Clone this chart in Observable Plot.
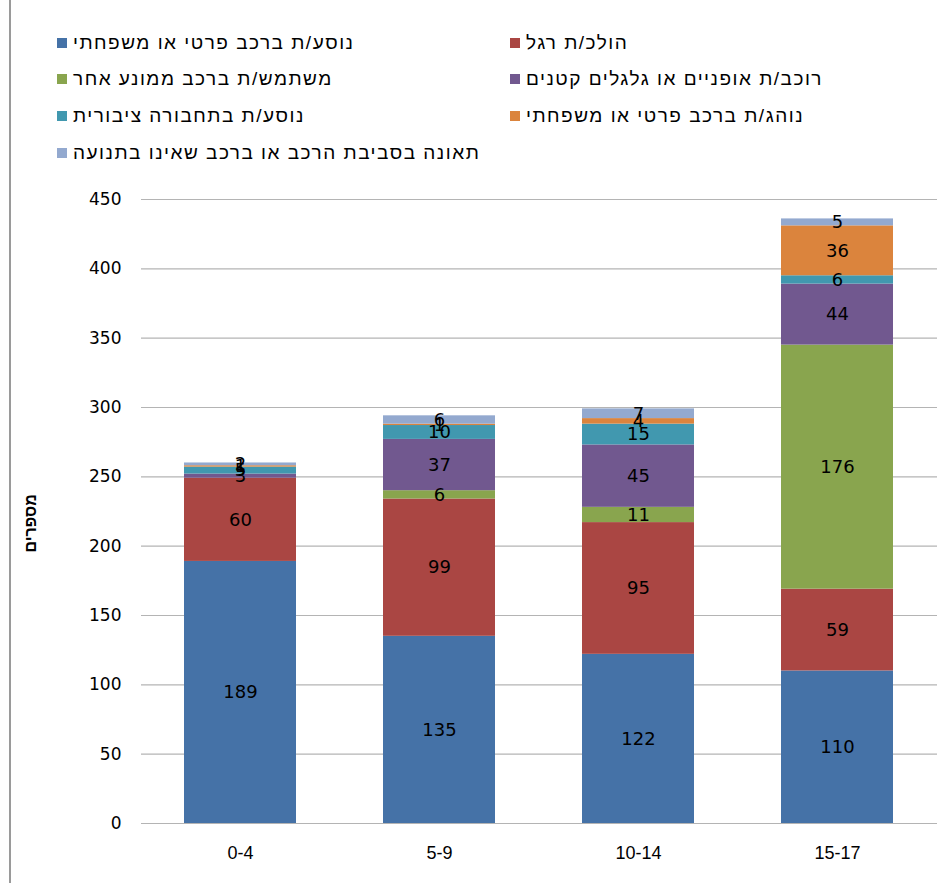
<!DOCTYPE html>
<html>
<head>
<meta charset="utf-8">
<script src="https://cdn.jsdelivr.net/npm/d3@7"></script>
<script src="https://cdn.jsdelivr.net/npm/@observablehq/plot@0.6"></script>
<style>
  html, body { margin: 0; padding: 0; background: #fff; }
  #wrap { position: relative; width: 947px; height: 883px; overflow: hidden; }
  #frame { position: absolute; left: 9px; top: 0; width: 2px; height: 883px; background: #9a9a9a; }
  .leg { position: absolute; height: 20px; display: flex; align-items: center; font-family: "Liberation Sans", Arial, sans-serif; font-size: 19px; letter-spacing: 1.5px; color: #000; }
  .leg .sw { width: 10px; height: 10px; margin-right: 6px; flex: none; }
  .leg .tx { direction: rtl; unicode-bidi: embed; white-space: pre; }
</style>
</head>
<body>
<div id="wrap"><div id="frame"></div></div>
<script>
const ageGroups = ["0-4", "5-9", "10-14", "15-17"];
const seriesNames = [
  "נוסע/ת ברכב פרטי או משפחתי",
  "הולכ/ת רגל",
  "משתמש/ת ברכב ממונע אחר",
  "רוכב/ת אופניים או גלגלים קטנים",
  "נוסע/ת בתחבורה ציבורית",
  " נוהג/ת ברכב פרטי או משפחתי",
  "תאונה בסביבת הרכב או ברכב שאינו בתנועה"
];
const seriesColors = ["#4572A7", "#AA4643", "#89A54E", "#71588F", "#4198AF", "#DB843D", "#93A9CF"];
const passenger = [189, 135, 122, 110];
const pedestrian = [60, 99, 95, 59];
const otherMotor = [0, 6, 11, 176];
const cyclist = [3, 37, 45, 44];
const publicTransport = [5, 10, 15, 6];
const driver = [1, 1, 4, 36];
const stationary = [2, 6, 7, 5];
const yTicks = [0, 50, 100, 150, 200, 250, 300, 350, 400, 450];
const yTitle = "מספרים";

const seriesValues = [passenger, pedestrian, otherMotor, cyclist, publicTransport, driver, stationary];
const rows = [];
ageGroups.forEach((g, i) => {
  seriesValues.forEach((vals, s) => {
    rows.push({age: g, series: seriesNames[s], value: vals[i]});
  });
});

const chart = Plot.plot({
  width: 947,
  height: 883,
  marginLeft: 141,
  marginRight: 10,
  marginTop: 199,
  marginBottom: 60,
  style: {fontFamily: "'DejaVu Sans', sans-serif", fontSize: "16px", color: "#000"},
  x: {domain: ageGroups, paddingInner: 0.437, paddingOuter: 0.216, label: null},
  y: {domain: [0, 450], ticks: yTicks, label: null},
  color: {domain: seriesNames, range: seriesColors},
  marks: [
    Plot.ruleY(yTicks, {stroke: "#b4b4b4", strokeWidth: 1.2}),
    Plot.barY(rows, Plot.stackY({x: "age", y: "value", z: "series", fill: "series", order: null})),
    Plot.text(rows, Plot.stackY({x: "age", y: "value", z: "series", order: null,
      text: d => d.value > 0 ? String(d.value) : "", fill: "#000",
      fontFamily: "'DejaVu Sans', sans-serif", fontSize: 18, letterSpacing: 1})),
    Plot.axisY({ticks: yTicks, tickSize: 0, tickPadding: 20, fontSize: 17, letterSpacing: 1,
      fontFamily: "'DejaVu Sans', sans-serif", label: null}),
    Plot.axisX({tickSize: 0, tickPadding: 23, fontSize: 18,
      fontFamily: "'Liberation Sans', Arial, sans-serif", label: null}),
    Plot.text([yTitle], {frameAnchor: "left", dx: -111, dy: 41, rotate: -90, text: d => d,
      fontWeight: "bold", fontSize: 16, fontFamily: "'Liberation Sans', Arial, sans-serif",
      fill: "#000"})
  ]
});
document.getElementById("wrap").appendChild(chart);
chart.style.position = "absolute";
chart.style.left = "0px";
chart.style.top = "0px";

// legend
const legendPos = [
  [57, 33], [510, 33],
  [57, 69], [510, 69],
  [57, 106], [510, 106],
  [57, 143]
];
seriesNames.forEach((name, s) => {
  const d = document.createElement("div");
  d.className = "leg";
  d.style.left = legendPos[s][0] + "px";
  d.style.top = legendPos[s][1] + "px";
  const sw = document.createElement("span");
  sw.className = "sw";
  sw.style.background = seriesColors[s];
  const tx = document.createElement("span");
  tx.className = "tx";
  tx.textContent = name;
  d.appendChild(sw);
  d.appendChild(tx);
  document.getElementById("wrap").appendChild(d);
});
</script>
</body>
</html>
